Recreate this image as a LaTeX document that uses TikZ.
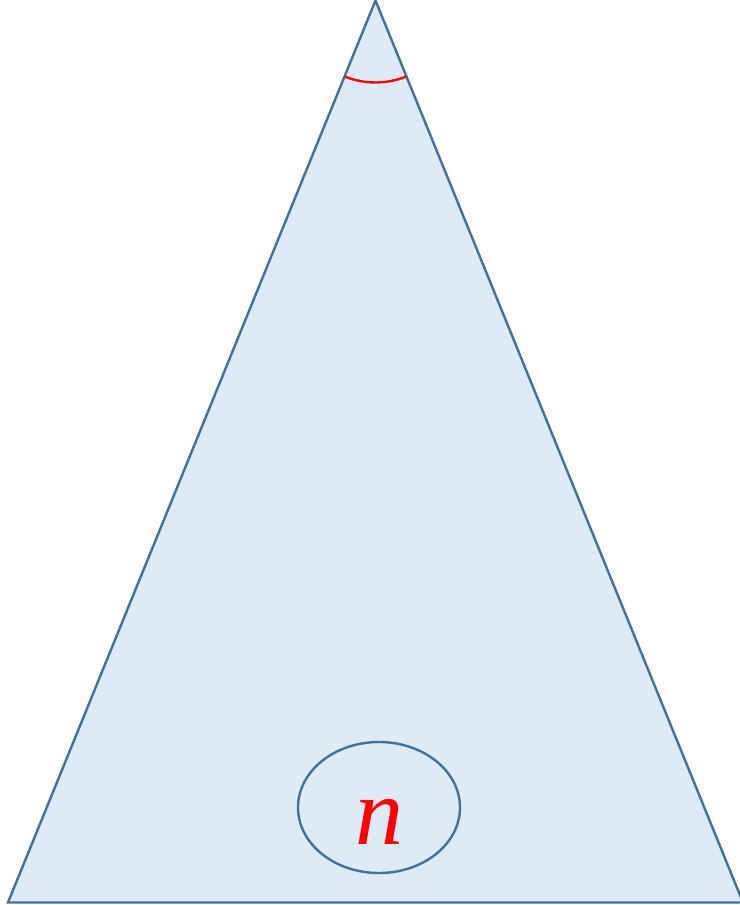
\documentclass[tikz,border=0pt]{standalone}
\usepackage{fontspec}
\setmainfont{Liberation Serif}
\usetikzlibrary{shapes.geometric,calc}

\definecolor{edgeblue}{HTML}{41719C}
\definecolor{fillblue}{HTML}{DEEBF7}

\begin{document}
\begin{tikzpicture}[x=1pt,y=-1pt,
  outline/.style={draw=edgeblue,line width=2.4pt,line join=miter},
  anglemark/.style={draw=red,line width=2.4pt}]
  \useasboundingbox (0,0) rectangle (739,905);
  \coordinate (top) at (375.5,0.5);
  \coordinate (bl) at (8,902.5);
  \coordinate (br) at (743,902.5);
  \filldraw[outline,fill=fillblue] (top) -- (bl) -- (br) -- cycle;
  % angle at the apex
  \draw[anglemark] ($(top)+(112.16:82)$) arc[start angle=112.16,end angle=67.84,radius=82];
  \node[ellipse,outline,minimum width=162pt,minimum height=131pt,inner sep=0pt] (circ) at (379,807.5) {};
  \node[text=red,font=\fontsize{96}{96}\selectfont\itshape,inner sep=0pt] (lab) at (379,821.5) {n};
\end{tikzpicture}
\end{document}
